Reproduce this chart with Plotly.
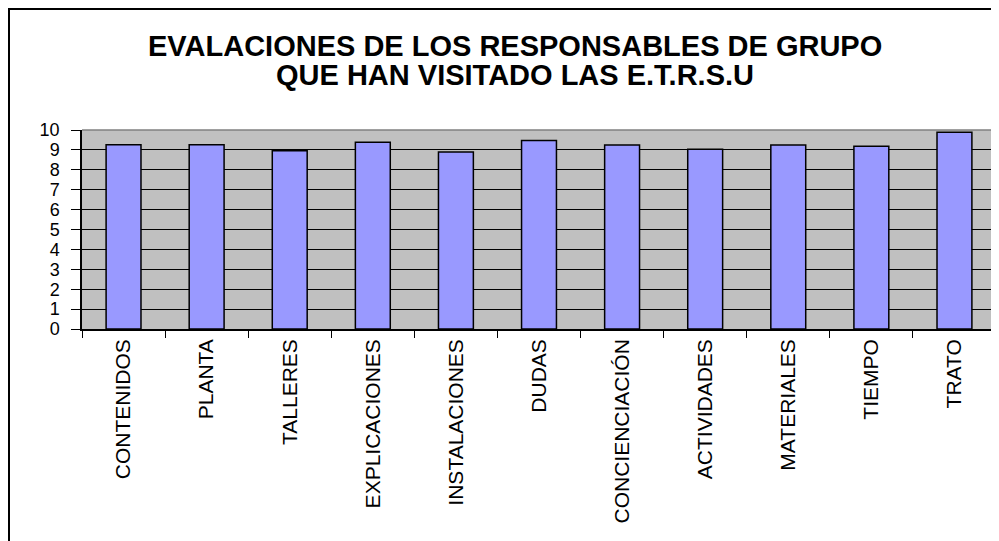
import plotly.graph_objects as go

# Data
categorias = ['CONTENIDOS', 'PLANTA', 'TALLERES', 'EXPLICACIONES', 'INSTALACIONES',
              'DUDAS', 'CONCIENCIACIÓN', 'ACTIVIDADES', 'MATERIALES', 'TIEMPO', 'TRATO']
puntuaciones = [9.26, 9.26, 8.96, 9.39, 8.89, 9.47, 9.25, 9.03, 9.25, 9.18, 9.89]
y_ticks = list(range(0, 11))

titulo_1 = 'EVALACIONES DE LOS RESPONSABLES DE GRUPO'
titulo_2 = 'QUE HAN VISITADO LAS E.T.R.S.U'

FONT = 'Arial, Liberation Sans, sans-serif'

fig = go.Figure()

fig.add_trace(go.Bar(
    x=categorias,
    y=puntuaciones,
    marker=dict(color='#9999FF', line=dict(color='black', width=1.5)),
    showlegend=False,
))

# page body has an 8px margin, so the figure is drawn 8px in from the window
OFF = 8
W, H = 999 - OFF, 541 - OFF
# plot area in window pixels, converted to figure pixels
L, R, T, B = 82 - OFF, 996 - OFF, 130 - OFF, 329 - OFF
pw, ph = R - L, B - T

def px_x(p):
    return (p - OFF - L) / pw

def px_y(p):
    return (B - (p - OFF)) / ph

# outer chart frame
fig.add_shape(type='rect', xref='paper', yref='paper',
              x0=px_x(9), x1=px_x(1030), y0=px_y(9), y1=px_y(580),
              line=dict(color='black', width=2), layer='below')

# grey top / right border of plot area
fig.add_shape(type='line', xref='paper', yref='paper', x0=0, x1=1, y0=1, y1=1,
              line=dict(color='#808080', width=1.5), layer='above')
fig.add_shape(type='line', xref='paper', yref='paper', x0=1, x1=1, y0=0, y1=1,
              line=dict(color='#808080', width=1.5), layer='above')

fig.add_annotation(text='<b>' + titulo_1 + '</b>', xref='paper', yref='paper',
                   x=px_x(515), y=px_y(46), xanchor='center', yanchor='middle',
                   showarrow=False, font=dict(family=FONT, size=29, color='black'))
fig.add_annotation(text='<b>' + titulo_2 + '</b>', xref='paper', yref='paper',
                   x=px_x(515), y=px_y(75), xanchor='center', yanchor='middle',
                   showarrow=False, font=dict(family=FONT, size=29, color='black'))

fig.update_xaxes(
    showline=True, linecolor='black', linewidth=1.5,
    ticks='outside', ticklen=7, tickcolor='black', tickwidth=1,
    tickson='boundaries', tickangle=-90,
    tickfont=dict(family=FONT, size=21, color='black'),
    showgrid=False,
)
fig.update_yaxes(
    range=[0, 10], tickvals=y_ticks,
    showline=True, linecolor='black', linewidth=1.5,
    ticks='outside', ticklen=9, tickcolor='black', tickwidth=1,
    ticklabelstandoff=8,
    tickfont=dict(family=FONT, size=18, color='black'),
    showgrid=True, gridcolor='black', gridwidth=1,
    zeroline=False,
)

fig.update_layout(
    width=W, height=H,
    margin=dict(l=L, r=W - R, t=T, b=H - B, autoexpand=False),
    paper_bgcolor='white',
    plot_bgcolor='#C0C0C0',
    bargap=0.58,
    font=dict(family=FONT, color='black'),
)

fig.write_html('out.html')
